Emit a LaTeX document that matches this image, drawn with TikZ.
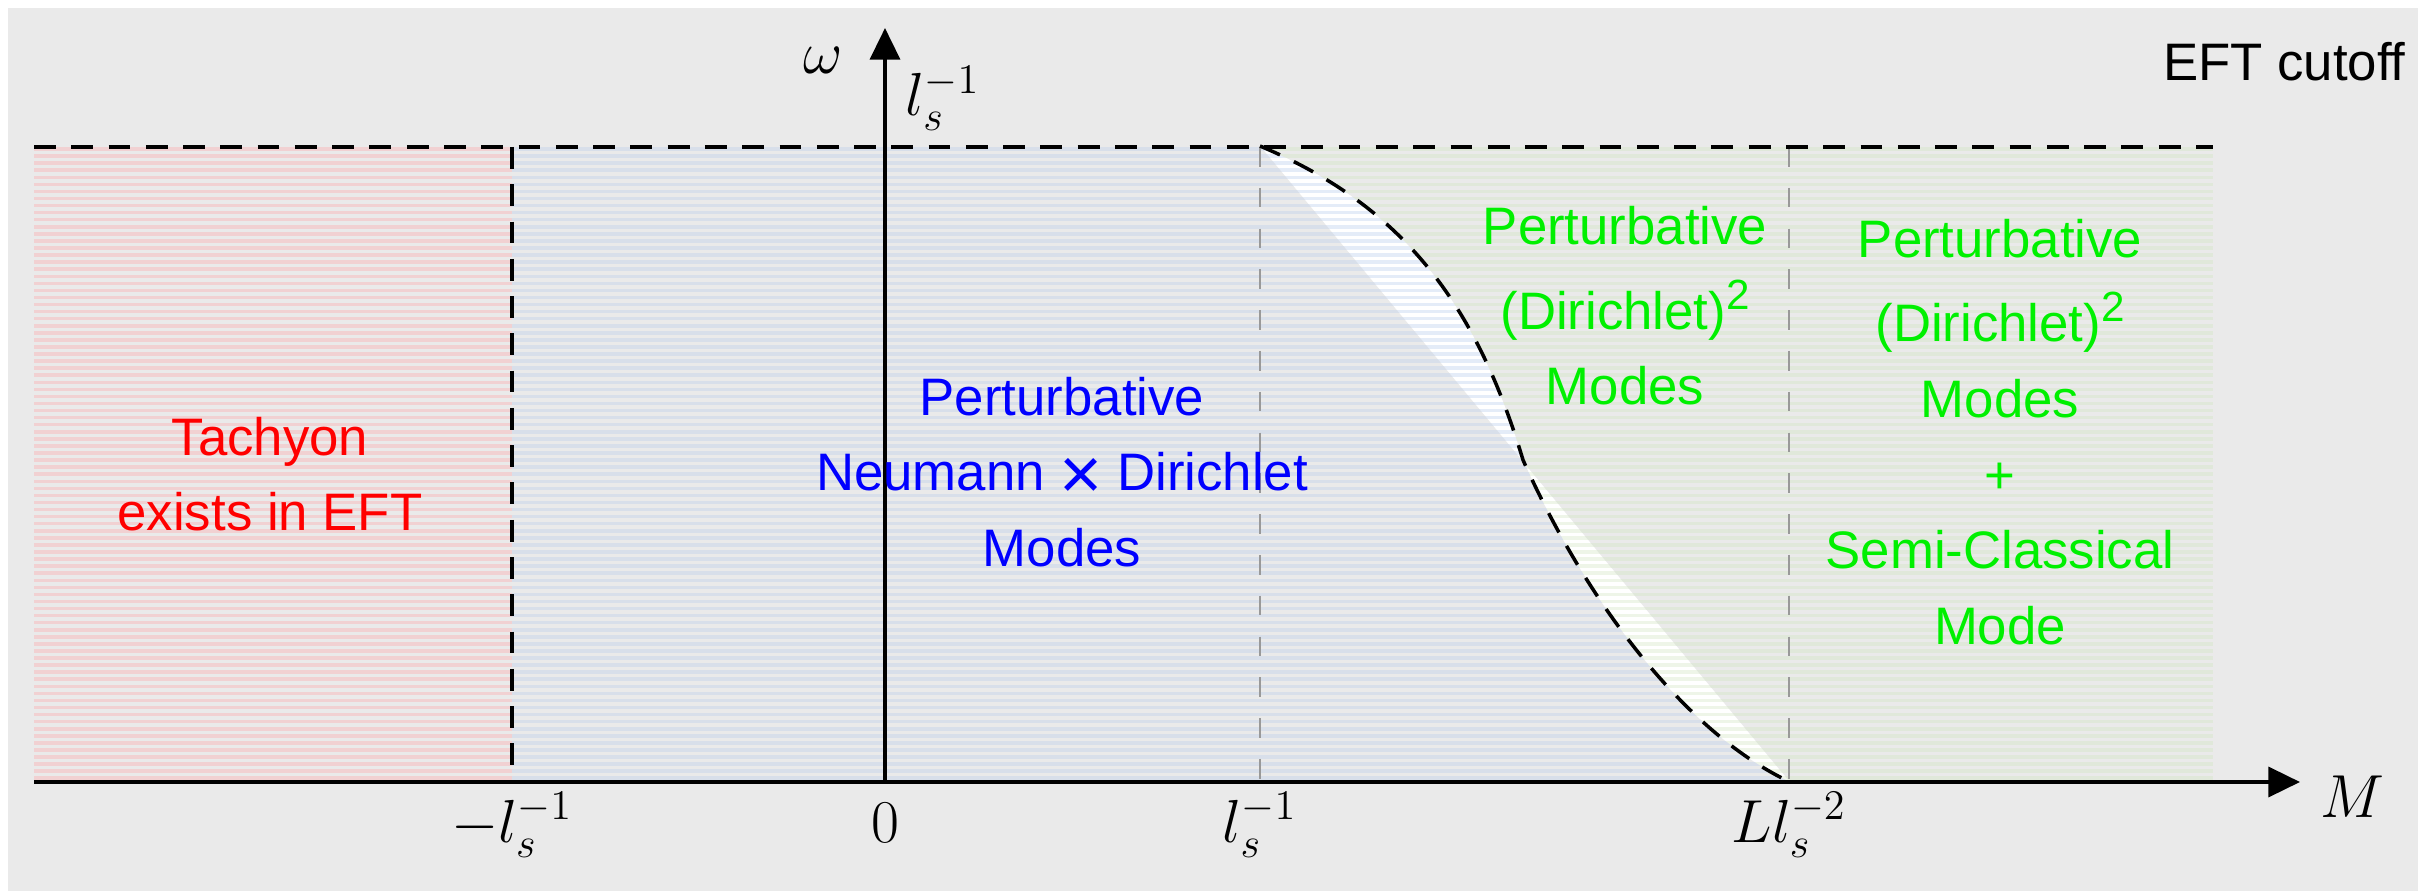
\documentclass[tikz,border=0pt]{standalone}
\usepackage{fontspec}
\setmainfont{Liberation Sans}
\usetikzlibrary{arrows.meta}
\definecolor{PlotBg}{HTML}{EAEAEA}
\definecolor{TachStripe}{HTML}{F1D1D2}
\definecolor{NDStripe}{HTML}{D8DFEA}
\definecolor{DDStripe}{HTML}{E0E8DA}
\definecolor{GapBlue}{HTML}{E4ECF8}
\definecolor{GapGreen}{HTML}{EEF5E8}
\definecolor{TachText}{HTML}{FF0000}
\definecolor{NDText}{HTML}{0000FF}
\definecolor{DDText}{HTML}{00F000}
\definecolor{GuideGray}{HTML}{999999}
\newcommand{\sqr}{\raisebox{5.7pt}{\fontsize{12}{12}\selectfont 2}}
\newcommand{\bigtimes}{\raisebox{-2.5pt}{\fontsize{21}{21}\selectfont ×}}

\begin{document}
\begin{tikzpicture}[
    x=0.01cm,y=-0.01cm,
    stripe/.style={line width=1pt},
    cutline/.style={dash pattern=on 6.2pt off 4.4pt,line width=1pt},
    guide/.style={dash pattern=on 5.6pt off 6pt,line width=0.7pt,color=GuideGray},
    axis/.style={-{Triangle[length=9pt,width=8.5pt]},line width=1.1pt},
    region/.style={font=\fontsize{15}{21.5}\selectfont,align=center},
    mathlabel/.style={font=\fontsize{18}{20}\selectfont,inner sep=0pt}
  ]
  \useasboundingbox (0,0) rectangle (2418,891);
  \fill[PlotBg] (8,8) rectangle (2418,891);

  \coordinate (kink) at (1260,146);
  \coordinate (mid) at (1523,460);
  \coordinate (tail) at (1790,782);

  % tachyon band
  \foreach \k in {0,...,89}
    \draw[stripe,TachStripe] (34,{149+7.07*\k}) -- (512,{149+7.07*\k});

  % gap between the straight line and the cutoff curve
  \fill[white] (1260,146) rectangle (1790,782);
  \foreach \k in {0,...,89}
    \draw[stripe,color=GapBlue] (1260,{149+7.07*\k}) -- (1790,{149+7.07*\k});
  \begin{scope}
    \clip (1260,460) rectangle (1790,782);
    \foreach \k in {0,...,89}
      \draw[stripe,color=GapGreen] (1260,{149+7.07*\k}) -- (1790,{149+7.07*\k});
  \end{scope}

  % Neumann x Dirichlet band
  \begin{scope}
    \clip (512,146) -- (kink) -- (tail) -- (512,782) -- cycle;
    \clip (512,146) -- (kink) .. controls (1400,205) and (1475,300) .. (mid)
          .. controls (1590,610) and (1690,735) .. (tail) -- (512,782) -- cycle;
    \fill[PlotBg] (512,146) rectangle (1790,782);
    \foreach \k in {0,...,89}
      \draw[stripe,NDStripe] (512,{149+7.07*\k}) -- (1790,{149+7.07*\k});
  \end{scope}

  % Dirichlet^2 band
  \begin{scope}
    \clip (kink) -- (tail) -- (2213,782) -- (2213,146) -- cycle;
    \clip (kink) .. controls (1400,205) and (1475,300) .. (mid)
          .. controls (1590,610) and (1690,735) .. (tail) -- (2213,782) -- (2213,146) -- cycle;
    \fill[PlotBg] (1260,146) rectangle (2213,782);
    \foreach \k in {0,...,89}
      \draw[stripe,DDStripe] (1260,{149+7.07*\k}) -- (2213,{149+7.07*\k});
  \end{scope}

  \coordinate (cutL) at (34,147);
  \coordinate (cutR) at (2213,147);
  \coordinate (xstart) at (34,782);
  \coordinate (xend) at (2300,782);
  \coordinate (O) at (885,782);
  \coordinate (ytop) at (885,28);

  \draw[guide] (1260,147) -- (1260,782);
  \draw[guide] (1789,147) -- (1789,782);
  \draw[cutline] (512,147) -- (512,782);
  \draw[cutline] (cutL) -- (cutR);
  \draw[cutline] (kink) .. controls (1400,205) and (1475,300) .. (mid)
        .. controls (1590,610) and (1690,735) .. (tail);

  \draw[axis] (xstart) -- (xend);
  \draw[axis] (O) -- (ytop);

  \node[mathlabel] (omega) at (823,60) {$\omega$};
  \node[mathlabel,anchor=west] (ymax) at (905,98) {$l_s^{-1}$};
  \node[mathlabel] (mlabel) at (2352,797) {$M$};
  \node[mathlabel,anchor=base] (tneg) at (512,842) {$-l_s^{-1}$};
  \node[mathlabel,anchor=base] (tzero) at (885,842) {$0$};
  \node[mathlabel,anchor=base] (tpos) at (1260,842) {$l_s^{-1}$};
  \node[mathlabel,anchor=base] (tLl) at (1789,842) {$Ll_s^{-2}$};

  \node[region,anchor=east] (cutoff) at (2418,62) {EFT cutoff};
  \node[region,TachText] (tachyon) at (270,474) {Tachyon\\exists in EFT};
  \node[region,NDText] (nd) at (1062,472)
    {Perturbative\\Neumann \bigtimes{} Dirichlet\\Modes};
  \node[region,DDText] (dd) at (1625,306) {Perturbative\\[2.5pt](Dirichlet)\sqr\\Modes};
  \node[region,DDText] (ddsc) at (2000,432)
    {Perturbative\\[2.5pt](Dirichlet)\sqr\\Modes\\+\\Semi-Classical\\Mode};
\end{tikzpicture}
\end{document}
